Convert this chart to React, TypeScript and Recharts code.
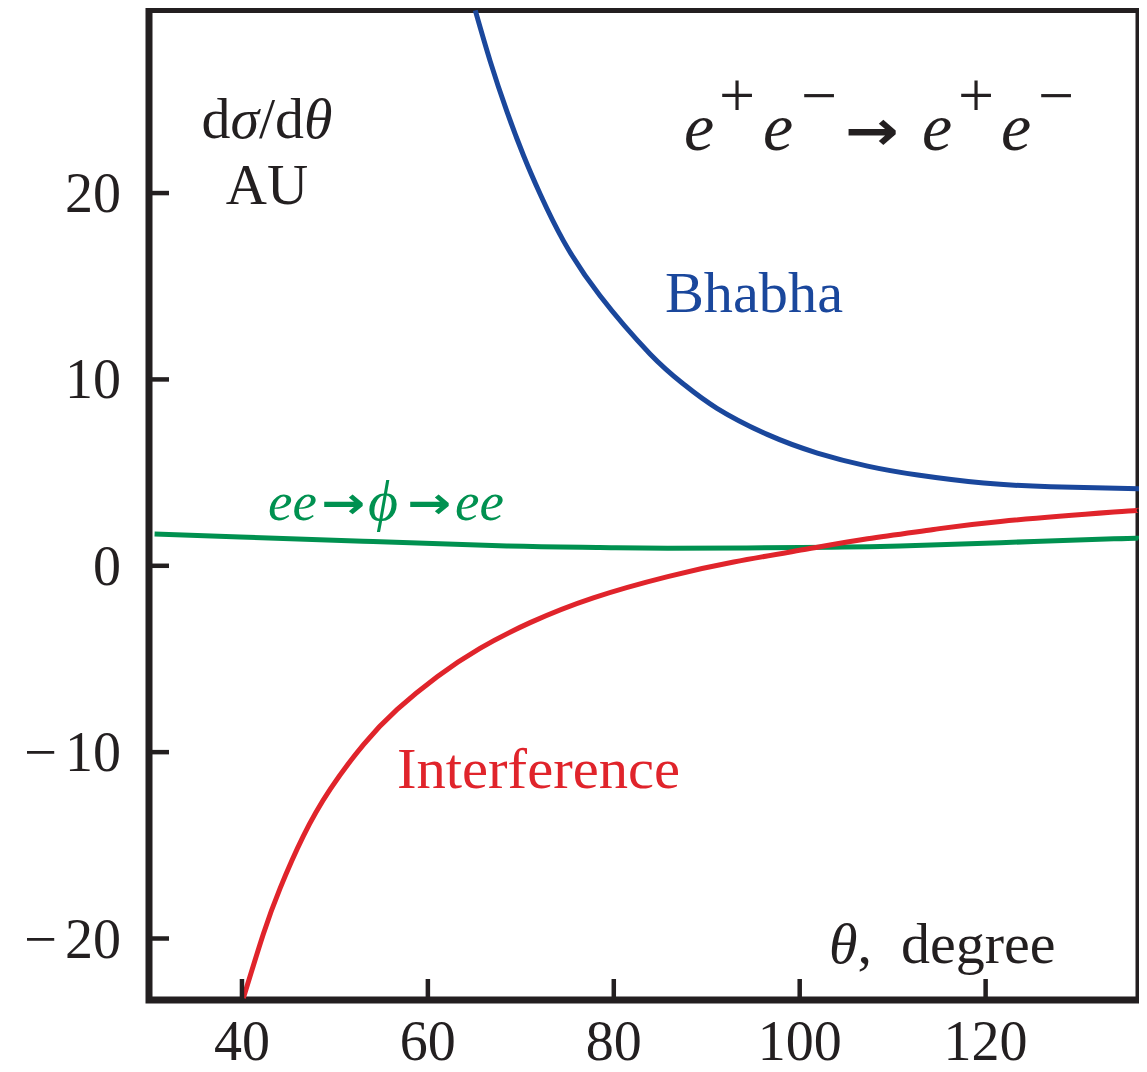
import React from 'react';
import { LineChart, Line, XAxis, YAxis, ReferenceArea } from 'recharts';

// ---- data ----
const bhabhaTheta = [65.1, 66.7, 68.5, 70.3, 72.1, 74.6, 78.5, 83.9, 87.5, 91.1, 96.5, 101.9, 107.3, 112.7, 119.8, 127.0, 136.5];
const bhabhaValue = [29.8, 27.08, 24.38, 22.0, 19.92, 17.42, 14.5, 11.37, 9.75, 8.45, 7.05, 6.05, 5.35, 4.87, 4.44, 4.24, 4.14];

const interfTheta = [40.15, 42.3, 44.1, 46.6, 49.5, 53.1, 56.7, 61.0, 65.6, 71.0, 77.8, 85.8, 92.9, 100.8, 107.3, 114.4, 121.6, 133.8, 136.5];
const interfValue = [-23.2, -19.76, -17.31, -14.51, -11.99, -9.58, -7.71, -5.95, -4.43, -3.05, -1.72, -0.58, 0.2, 0.9, 1.45, 1.95, 2.38, 2.88, 2.97];

const phiTheta = [30.6, 39.8, 54.1, 68.5, 78.5, 85.8, 100.1, 110.8, 121.6, 133.8, 136.5];
const phiValue = [1.7, 1.54, 1.3, 1.06, 0.98, 0.94, 0.98, 1.06, 1.24, 1.45, 1.48];

const xTicks = [40, 60, 80, 100, 120];
const yTicks = [-20, -10, 0, 10, 20];
const xDomain = [30, 136.5];
const yDomain = [-23.3, 29.85];

const bhabhaData = bhabhaTheta.map((t, i) => ({ theta: t, v: bhabhaValue[i] }));
const interfData = interfTheta.map((t, i) => ({ theta: t, v: interfValue[i] }));
const phiData = phiTheta.map((t, i) => ({ theta: t, v: phiValue[i] }));

const INK = '#231f20';
const BLUE = '#1a479c';
const RED = '#e0242b';
const GREEN = '#009150';
const SERIF = '"Liberation Serif", "Times New Roman", serif';

const XTick = (props: any) => {
  const { x, y, payload } = props;
  return (
    <g>
      <line x1={x} x2={x} y1={y} y2={y - 21} stroke={INK} strokeWidth={4.5} />
      <text x={x} y={y + 60} textAnchor="middle" fontFamily={SERIF} fontSize={56} fill={INK}>
        {String(payload.value)}
      </text>
    </g>
  );
};

const YTick = (props: any) => {
  const { x, y, payload } = props;
  const v = payload.value as number;
  const digits = String(Math.abs(v));
  return (
    <g>
      <line x1={x} x2={x + 20} y1={y} y2={y} stroke={INK} strokeWidth={4.5} />
      <text x={x - 28} y={y + 19} textAnchor="end" fontFamily={SERIF} fontSize={56} fill={INK}>
        {digits}
      </text>
      {v < 0 ? (
        <text
          x={x - 125}
          y={y + 19}
          fontFamily={SERIF}
          fontSize={56}
          fill={INK}
          textLength={33}
          lengthAdjust="spacingAndGlyphs"
        >
          −
        </text>
      ) : null}
    </g>
  );
};

const Overlay = () => (
  <svg
    width={1139}
    height={1064}
    style={{ position: 'absolute', left: 0, top: 0, pointerEvents: 'none' }}
  >
    <g transform="translate(-8,-8)" fontFamily={SERIF}>
      <text x={267} y={138} textAnchor="middle" fontSize={56} fill={INK} textLength={131} lengthAdjust="spacingAndGlyphs">
        d<tspan fontStyle="italic">σ</tspan>/d<tspan fontStyle="italic">θ</tspan>
      </text>
      <text x={267} y={204} textAnchor="middle" fontSize={57} fill={INK}>AU</text>

      {/* e+e- -> e+e- */}
      <text x={684} y={150} fontSize={68} fontStyle="italic" fill={INK}>e</text>
      <text x={719} y={117} fontSize={64} fill={INK}>+</text>
      <text x={763} y={150} fontSize={68} fontStyle="italic" fill={INK}>e</text>
      <text x={801} y={117} fontSize={64} fill={INK}>−</text>
      <text x={845} y={150} fontSize={56} fill={INK} fontFamily='"DejaVu Sans", sans-serif' fontWeight="bold" textLength={54} lengthAdjust="spacingAndGlyphs">→</text>
      <text x={922} y={150} fontSize={68} fontStyle="italic" fill={INK}>e</text>
      <text x={958} y={117} fontSize={64} fill={INK}>+</text>
      <text x={1001} y={150} fontSize={68} fontStyle="italic" fill={INK}>e</text>
      <text x={1038} y={117} fontSize={64} fill={INK}>−</text>

      <text x={665} y={312} fontSize={58} fill={BLUE} textLength={178} lengthAdjust="spacingAndGlyphs">Bhabha</text>
      <text x={397} y={788} fontSize={58} fill={RED} textLength={283} lengthAdjust="spacingAndGlyphs">Interference</text>

      {/* ee -> phi -> ee */}
      <text x={268} y={520} fontSize={55} fontStyle="italic" fill={GREEN}>ee</text>
      <text x={321} y={518} fontSize={44} fill={GREEN} fontFamily='"DejaVu Sans", sans-serif' fontWeight="bold" textLength={44} lengthAdjust="spacingAndGlyphs">→</text>
      <text x={368} y={520} fontSize={58} fontStyle="italic" fill={GREEN}>ϕ</text>
      <text x={407} y={518} fontSize={44} fill={GREEN} fontFamily='"DejaVu Sans", sans-serif' fontWeight="bold" textLength={44} lengthAdjust="spacingAndGlyphs">→</text>
      <text x={455} y={520} fontSize={55} fontStyle="italic" fill={GREEN}>ee</text>

      <text x={829} y={963} fontSize={58} fill={INK}>
        <tspan fontStyle="italic">θ</tspan>,{'\u00a0\u00a0'}degree
      </text>
    </g>
  </svg>
);

export default function App() {
  return (
    <div style={{ position: 'relative', width: 1139, height: 1064 }}>
      <LineChart
        width={1139}
        height={1064}
        margin={{ top: 1.5, right: 8, bottom: 0, left: 0 }}
      >
        <XAxis
          dataKey="theta"
          type="number"
          domain={xDomain}
          ticks={xTicks}
          allowDataOverflow
          axisLine={false}
          tickLine={false}
          tickSize={0}
          tickMargin={0}
          height={72}
          tick={<XTick />}
          interval={0}
        />
        <YAxis
          type="number"
          domain={yDomain}
          ticks={yTicks}
          allowDataOverflow
          axisLine={false}
          tickLine={false}
          tickSize={0}
          tickMargin={0}
          width={141}
          tick={<YTick />}
          interval={0}
        />
        <Line data={phiData} dataKey="v" type="natural" stroke={GREEN} strokeWidth={5} dot={false} isAnimationActive={false} />
        <Line data={interfData} dataKey="v" type="natural" stroke={RED} strokeWidth={5} dot={false} isAnimationActive={false} />
        <Line data={bhabhaData} dataKey="v" type="natural" stroke={BLUE} strokeWidth={5} dot={false} isAnimationActive={false} />
        <ReferenceArea
          x1={xDomain[0]}
          x2={xDomain[1]}
          y1={yDomain[0]}
          y2={yDomain[1]}
          fill="none"
          fillOpacity={0}
          stroke={INK}
          strokeWidth={7}
          ifOverflow="visible"
        />
      </LineChart>
      <Overlay />
    </div>
  );
}
